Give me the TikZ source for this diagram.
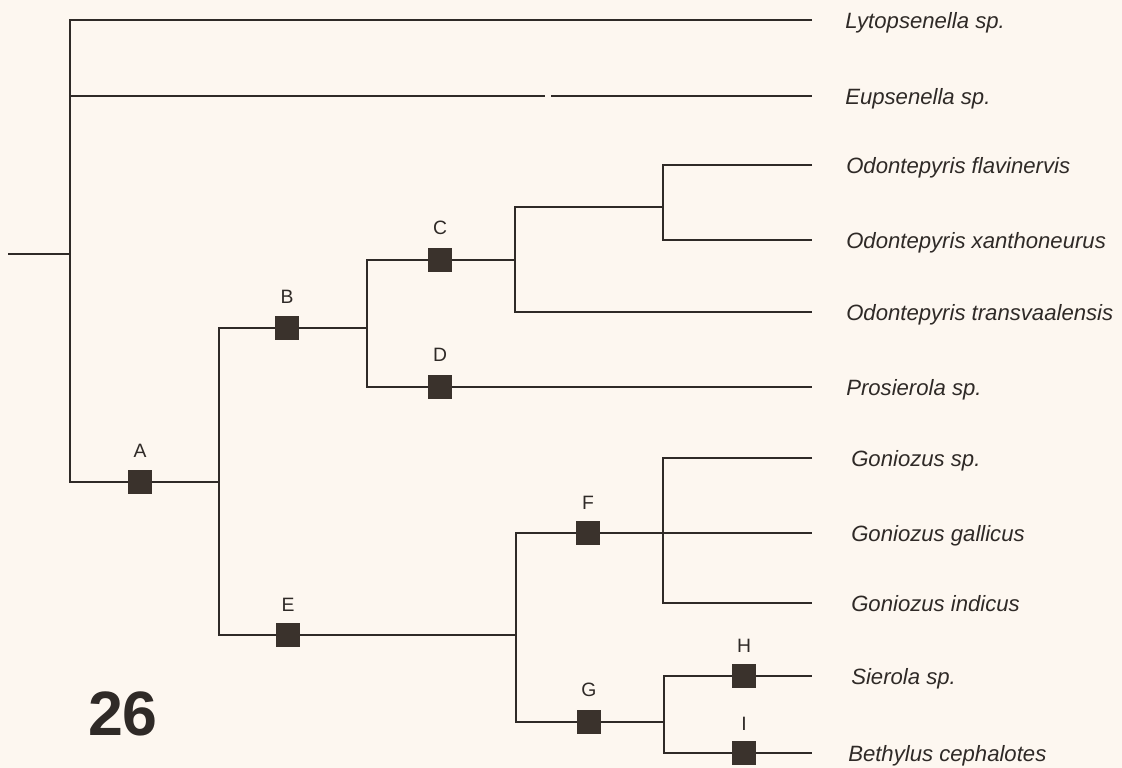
\documentclass[tikz,border=0pt]{standalone}
\usepackage{fontspec}
\setmainfont{Liberation Sans}
\definecolor{ink}{HTML}{2F2A27}
\definecolor{boxink}{HTML}{3A322C}
\definecolor{paper}{HTML}{FDF7F0}
\begin{document}
\begin{tikzpicture}[x=0.75pt,y=-0.75pt,
  branch/.style={draw=ink,line width=1.4pt},
  apo/.style={fill=boxink,draw=none,minimum size=18pt,inner sep=0pt},
  clade/.style={font=\fontsize{14.5}{16}\selectfont,text=ink,anchor=base,inner sep=0pt},
  taxon/.style={font=\fontsize{16.6}{20}\selectfont\itshape,text=ink,anchor=base west,inner sep=0pt}]
\fill[paper] (0,0) rectangle (1122,768);
\useasboundingbox (0,0) rectangle (1122,768);

% branching points
\coordinate (root) at (8,254);
\coordinate (n0) at (70,254);
\coordinate (n1) at (219,482);
\coordinate (n2) at (367,328);
\coordinate (n3) at (515,260);
\coordinate (n4) at (663,207);
\coordinate (n5) at (516,635);
\coordinate (n6) at (663,533);
\coordinate (n7) at (664,722);
\coordinate (gapL) at (545,96);
\coordinate (gapR) at (551,96);

% tips
\coordinate (l1) at (812,20);
\coordinate (l2) at (812,96);
\coordinate (l3) at (812,165);
\coordinate (l4) at (812,240);
\coordinate (l5) at (812,312);
\coordinate (l6) at (812,387);
\coordinate (l7) at (812,458);
\coordinate (l8) at (812,533);
\coordinate (l9) at (812,603);
\coordinate (l10) at (812,676);
\coordinate (l11) at (812,753);

% apomorphy boxes
\node[apo] (A) at (140,482) {};
\node[apo] (B) at (287,328) {};
\node[apo] (C) at (440,260) {};
\node[apo] (D) at (440,387) {};
\node[apo] (E) at (288,635) {};
\node[apo] (F) at (588,533) {};
\node[apo] (G) at (589,722) {};
\node[apo] (H) at (744,676) {};
\node[apo] (I) at (744,753) {};

% branches
\draw[branch] (root) -- (n0);
\draw[branch] (l1) -| (n0) |- (A);
\draw[branch] (A) -- (n1);
\draw[branch] (n0 |- l2) -- (gapL);
\draw[branch] (gapR) -- (l2);
\draw[branch] (B) -| (n1) |- (E);
\draw[branch] (B) -- (n2);
\draw[branch] (C) -| (n2) |- (D);
\draw[branch] (C) -- (n3);
\draw[branch] (D) -- (l6);
\draw[branch] (n4) -| (n3) |- (l5);
\draw[branch] (l3) -| (n4) |- (l4);
\draw[branch] (E) -- (n5);
\draw[branch] (F) -| (n5) |- (G);
\draw[branch] (F) -- (l8);
\draw[branch] (l7) -| (n6) |- (l9);
\draw[branch] (G) -- (n7);
\draw[branch] (H) -| (n7) |- (I);
\draw[branch] (H) -- (l10);
\draw[branch] (I) -- (l11);

% clade letters
\node[clade] (lA) at (140,457) {A};
\node[clade] (lB) at (287,303) {B};
\node[clade] (lC) at (440,234) {C};
\node[clade] (lD) at (440,361) {D};
\node[clade] (lE) at (288,611) {E};
\node[clade] (lF) at (588,509) {F};
\node[clade] (lG) at (589,696) {G};
\node[clade] (lH) at (744,652) {H};
\node[clade] (lI) at (744,730) {I};

% taxa
\node[taxon] (t1) at (845,28) {Lytopsenella sp.};
\node[taxon] (t2) at (845,104) {Eupsenella sp.};
\node[taxon] (t3) at (846,173) {Odontepyris flavinervis};
\node[taxon] (t4) at (846,248) {Odontepyris xanthoneurus};
\node[taxon] (t5) at (846,320) {Odontepyris transvaalensis};
\node[taxon] (t6) at (846,395) {Prosierola sp.};
\node[taxon] (t7) at (851,466) {Goniozus sp.};
\node[taxon] (t8) at (851,541) {Goniozus gallicus};
\node[taxon] (t9) at (851,611) {Goniozus indicus};
\node[taxon] (t10) at (851,684) {Sierola sp.};
\node[taxon] (t11) at (848,761) {Bethylus cephalotes};

% figure number
\node[font=\fontsize{47}{50}\selectfont\bfseries,text=ink,anchor=base,inner sep=0pt] (fig) at (123,735) {26};
\end{tikzpicture}
\end{document}
